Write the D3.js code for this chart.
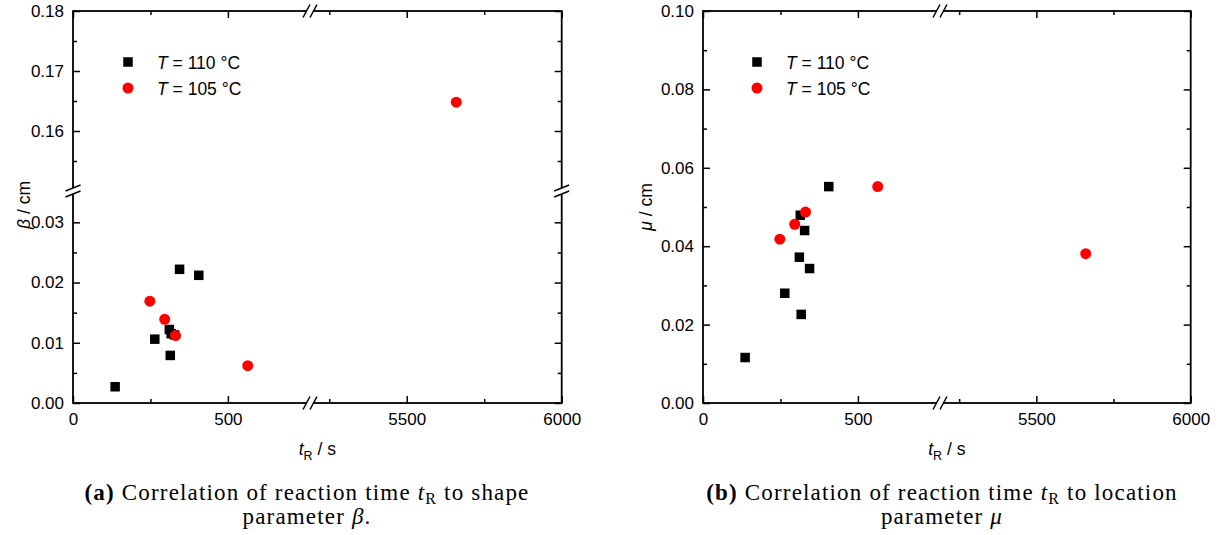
<!DOCTYPE html>
<html>
<head>
<meta charset="utf-8">
<script src="https://cdn.jsdelivr.net/npm/d3@7"></script>
<style>
  html, body { margin: 0; padding: 0; background: #fff; }
  svg { display: block; }
</style>
</head>
<body>
<svg id="chart" width="1221" height="535"></svg>
<script>
// ---------- data ----------
const series = ["T = 110 °C", "T = 105 °C"];
const tR_110   = [136, 264, 311, 314, 317, 328, 344, 406];
const beta_110 = [0.0027, 0.0106, 0.0122, 0.0079, 0.0115, 0.0113, 0.0222, 0.0212];
const mu_110   = [0.0116, 0.0280, 0.0372, 0.0479, 0.0226, 0.0440, 0.0343, 0.0552];
const tR_105   = [248, 296, 331, 564, 5660];
const beta_105 = [0.0169, 0.0139, 0.0112, 0.0062, 0.1648];
const mu_105   = [0.0418, 0.0456, 0.0487, 0.0552, 0.0381];

// axis definitions
const xBreakDomain = [0, 765, 5188, 6000];
const xMajor = [0, 500, 5500, 6000];
const xMinor = [250, 5250, 5750];
const betaBreakDomain = [0, 0.0352, 0.15, 0.18];
const betaMajor = [0, 0.01, 0.02, 0.03, 0.16, 0.17, 0.18];
const betaMinor = [0.005, 0.015, 0.025, 0.155, 0.165, 0.175];
const muDomain = [0, 0.10];
const muMajor = [0, 0.02, 0.04, 0.06, 0.08, 0.10];
const muMinor = [0.01, 0.03, 0.05, 0.07, 0.09];

// ---------- drawing ----------
const svg = d3.select("#chart");
const SANS = "'Liberation Sans', Arial, sans-serif";
const SERIF = "'Liberation Serif', 'Times New Roman', serif";
const AX_W = 1.8;
const CAP_SIZE = 23;
const CAP_WIDTH = 445;

function xBreakMark(g, bx, ay) {
  const off = 3.5, dx = 3.5, dy = 6.5;
  g.append("polygon")
    .attr("points", [[bx-off-dx, ay+dy],[bx-off+dx, ay-dy],[bx+off+dx, ay-dy],[bx+off-dx, ay+dy]].map(p=>p.join(",")).join(" "))
    .attr("fill", "#fff");
  [-off, off].forEach(o => {
    g.append("line")
      .attr("x1", bx+o-dx).attr("y1", ay+dy)
      .attr("x2", bx+o+dx).attr("y2", ay-dy)
      .attr("stroke", "#000").attr("stroke-width", 1.5);
  });
}
function yBreakMark(g, ax, by) {
  const off = 3, dx = 7.5, dy = 3;
  g.append("polygon")
    .attr("points", [[ax-dx, by+dy-off],[ax+dx, by-dy-off],[ax+dx, by-dy+off],[ax-dx, by+dy+off]].map(p=>p.join(",")).join(" "))
    .attr("fill", "#fff");
  [-off, off].forEach(o => {
    g.append("line")
      .attr("x1", ax-dx).attr("y1", by+dy+o)
      .attr("x2", ax+dx).attr("y2", by-dy+o)
      .attr("stroke", "#000").attr("stroke-width", 1.5);
  });
}

function styleAxis(g) {
  g.select(".domain").remove();
  g.selectAll("line").attr("stroke", "#000").attr("stroke-width", 1.5);
  g.selectAll("text").attr("font-family", SANS).attr("font-size", 17).attr("fill", "#000");
  g.attr("font-family", null).attr("font-size", null);
}

// letter spacing so the serif caption matches the reference's width
let capSpacing = 0;

function panel(cfg) {
  const g = svg.append("g");
  const x = d3.scaleLinear().domain(xBreakDomain).range([cfg.x0, cfg.xb, cfg.xb, cfg.x1]);
  const y = d3.scaleLinear().domain(cfg.yDomain).range(cfg.yRange);
  const y0 = cfg.yRange[0], yTop = cfg.yRange[cfg.yRange.length - 1];

  // axes
  g.append("g").attr("transform", `translate(0,${y0})`)
    .call(d3.axisBottom(x).tickValues(xMajor).tickSize(-7).tickPadding(10).tickFormat(d3.format("d"))).call(styleAxis);
  g.append("g").attr("transform", `translate(0,${y0})`)
    .call(d3.axisBottom(x).tickValues(xMinor).tickSize(-4).tickFormat("")).call(styleAxis);
  g.append("g").attr("transform", `translate(0,${yTop})`)
    .call(d3.axisTop(x).tickValues(xMajor).tickSize(-7).tickFormat("")).call(styleAxis);
  g.append("g").attr("transform", `translate(0,${yTop})`)
    .call(d3.axisTop(x).tickValues(xMinor).tickSize(-4).tickFormat("")).call(styleAxis);
  g.append("g").attr("transform", `translate(${cfg.x0},0)`)
    .call(d3.axisLeft(y).tickValues(cfg.yMajor).tickSize(-7).tickPadding(9).tickFormat(d3.format(".2f"))).call(styleAxis);
  g.append("g").attr("transform", `translate(${cfg.x0},0)`)
    .call(d3.axisLeft(y).tickValues(cfg.yMinor).tickSize(-4).tickFormat("")).call(styleAxis);
  g.append("g").attr("transform", `translate(${cfg.x1},0)`)
    .call(d3.axisRight(y).tickValues(cfg.yMajor).tickSize(-7).tickFormat("")).call(styleAxis);
  g.append("g").attr("transform", `translate(${cfg.x1},0)`)
    .call(d3.axisRight(y).tickValues(cfg.yMinor).tickSize(-4).tickFormat("")).call(styleAxis);

  // frame
  g.append("rect").attr("x", cfg.x0).attr("y", yTop)
    .attr("width", cfg.x1 - cfg.x0).attr("height", y0 - yTop)
    .attr("fill", "none").attr("stroke", "#000").attr("stroke-width", AX_W);

  // breaks
  const bx = x(xBreakDomain[1]);
  xBreakMark(g, bx, y0);
  xBreakMark(g, bx, yTop);
  if (cfg.yDomain.length === 4) {
    const by = y(cfg.yDomain[1]);
    yBreakMark(g, cfg.x0, by);
    yBreakMark(g, cfg.x1, by);
  }

  // data
  const d110 = tR_110.map((t, i) => ({t, v: cfg.v110[i]}));
  const d105 = tR_105.map((t, i) => ({t, v: cfg.v105[i]}));
  const S = 9.5, R = 5.5;
  g.append("g").selectAll("rect").data(d110).join("rect")
    .attr("x", d => x(d.t) - S/2).attr("y", d => y(d.v) - S/2)
    .attr("width", S).attr("height", S).attr("fill", "#000");
  g.append("g").selectAll("circle").data(d105).join("circle")
    .attr("cx", d => x(d.t)).attr("cy", d => y(d.v)).attr("r", R).attr("fill", "#ff0000");

  // legend
  const lx = cfg.legendX, ly = 62;
  g.append("rect").attr("x", lx - S/2).attr("y", ly - S/2).attr("width", S).attr("height", S).attr("fill", "#000");
  g.append("circle").attr("cx", lx).attr("cy", ly + 26).attr("r", R).attr("fill", "#ff0000");
  series.forEach((s, i) => {
    const t = g.append("text").attr("x", lx + 29).attr("y", ly + 7 + i * 26)
      .attr("font-family", SANS).attr("font-size", 17.5).attr("fill", "#000");
    t.append("tspan").attr("font-style", "italic").text(s.slice(0, 1));
    t.append("tspan").text(s.slice(1));
  });

  // y label
  const yl = g.append("text")
    .attr("transform", `translate(${cfg.yLabelX},${cfg.yLabelY}) rotate(-90)`)
    .attr("text-anchor", "middle").attr("font-family", SANS).attr("font-size", 17.5);
  yl.append("tspan").attr("font-style", "italic").text(cfg.yLabelSym);
  yl.append("tspan").text(" / cm");

  // x label
  const xl = g.append("text").attr("x", (cfg.x0 + cfg.x1) / 2).attr("y", 455)
    .attr("text-anchor", "middle").attr("font-family", SANS).attr("font-size", 17.5);
  xl.append("tspan").attr("font-style", "italic").text("t");
  xl.append("tspan").attr("font-size", 12.5).attr("dy", 5).text("R");
  xl.append("tspan").attr("dy", -5).text(" / s");

  // caption
  const c1 = g.append("text").attr("x", cfg.capX).attr("y", 500)
    .attr("text-anchor", "middle").attr("font-family", SERIF).attr("font-size", CAP_SIZE).attr("fill", "#000");
  c1.append("tspan").attr("font-weight", "bold").text(cfg.capLabel);
  c1.append("tspan").text(" Correlation of reaction time ");
  c1.append("tspan").attr("font-style", "italic").text("t");
  c1.append("tspan").attr("font-size", 16).attr("dy", 4).text("R");
  c1.append("tspan").attr("dy", -4).text(" to " + cfg.capWord);
  const c2 = g.append("text").attr("x", cfg.capX).attr("y", 524)
    .attr("text-anchor", "middle").attr("font-family", SERIF).attr("font-size", CAP_SIZE).attr("fill", "#000");
  c2.append("tspan").text("parameter ");
  c2.append("tspan").attr("font-style", "italic").text(cfg.yLabelSym);
  c2.append("tspan").text(cfg.capEnd);

  if (cfg.measureCaption) {
    const n = c1.text().length;
    const w = c1.node().getComputedTextLength();
    capSpacing = Math.max(0, (CAP_WIDTH - w) / n);
  }
  c1.attr("letter-spacing", capSpacing);
  c2.attr("letter-spacing", capSpacing);
}

panel({
  x0: 73, xb: 310, x1: 561.7,
  yDomain: betaBreakDomain, yRange: [403, 191, 191, 11],
  yMajor: betaMajor, yMinor: betaMinor,
  v110: beta_110, v105: beta_105,
  legendX: 128, yLabelX: 30, yLabelY: 205, yLabelSym: "β",
  capX: 307, capLabel: "(a)", capWord: "shape", capEnd: ".", measureCaption: true
});
panel({
  x0: 703, xb: 940, x1: 1190.7,
  yDomain: muDomain, yRange: [403, 11],
  yMajor: muMajor, yMinor: muMinor,
  v110: mu_110, v105: mu_105,
  legendX: 757, yLabelX: 652, yLabelY: 207, yLabelSym: "μ",
  capX: 942, capLabel: "(b)", capWord: "location", capEnd: ""
});
</script>
</body>
</html>
